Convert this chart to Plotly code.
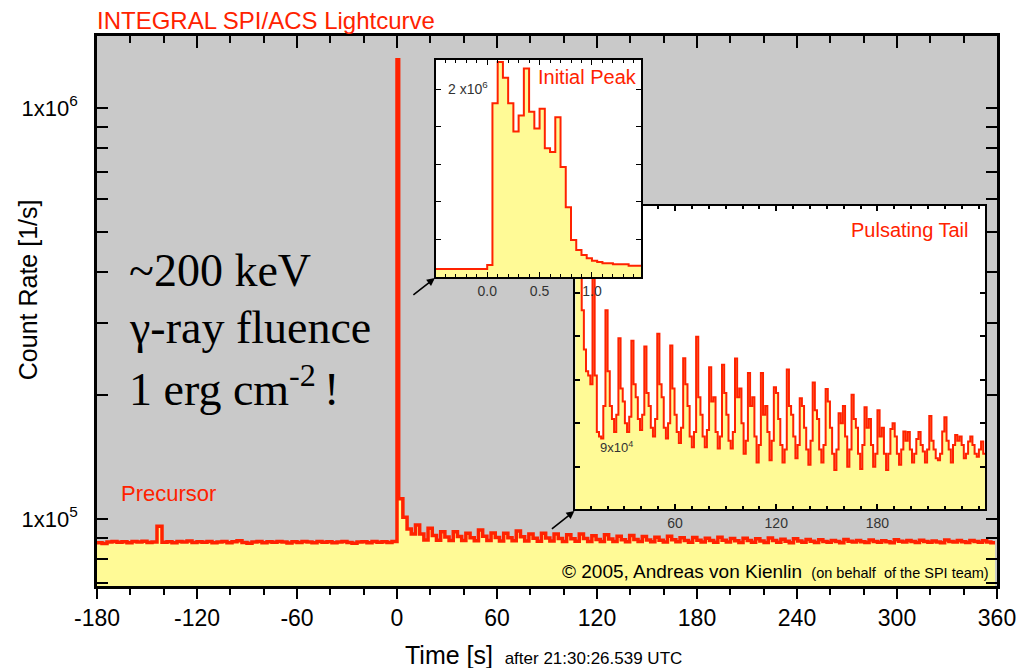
import plotly.graph_objects as go

# ---------------- data ----------------
# Main light curve (counts/s in units of 1e3)
pre_t0 = -180.0
pre_dt = 3.0
pre_rate = [87.6, 87.2, 87.9, 88.2, 87.8, 88.0, 87.5, 88.1, 87.9, 88.3, 87.7, 87.9,
            96.0, 87.8, 88.0, 87.6, 88.2, 87.9, 88.4, 87.7, 88.0, 87.8, 88.1, 87.5,
            87.9, 88.2, 87.6, 88.0, 88.5, 87.7, 87.3, 87.9, 88.1, 87.6, 88.0, 87.8,
            88.2, 87.9, 87.4, 88.0, 87.7, 88.1, 87.9, 87.6, 88.2, 87.8, 88.0, 87.5,
            87.9, 88.1, 87.7, 87.3, 87.9, 88.0, 87.6, 88.2, 87.8, 88.0, 87.7, 88.1]
spike_t = [0.0, 1.0]
spike_rate = [1310.0]
post_t0 = 1.0
post_dt = 2.52
post_start = [112.0, 101.0, 94.5, 92.0]
post_peak = [96.7, 95.0, 93.1, 93.1, 92.3, 94.0, 92.5, 92.3, 93.5, 92.0, 92.3, 92.0,
             91.5, 92.0, 91.0, 91.5, 90.8, 91.2, 90.6, 90.3, 90.8, 90.0, 90.2, 89.8,
             90.3, 89.6, 89.8, 89.5, 89.9, 89.3, 89.5, 89.2, 89.0, 88.7, 89.1, 88.6,
             88.9, 88.5, 89.0, 88.6, 88.8, 88.4, 88.9, 88.6, 88.7, 88.5]
post_mid = [92.0, 91.2, 90.4, 90.6, 90.0, 90.8, 90.1, 90.0, 90.5, 89.8, 89.9, 89.7,
            89.5, 89.6, 89.2, 89.4, 89.0, 89.2, 88.9, 88.8, 89.0, 88.7, 88.8, 88.6,
            88.8, 88.5, 88.6, 88.4, 88.6, 88.3, 88.4, 88.3, 88.2, 88.1, 88.3, 88.0,
            88.2, 88.0, 88.3, 88.1, 88.2, 87.9, 88.2, 88.0, 88.1, 87.9]
post_trough = [88.9, 88.8, 88.6, 88.7, 88.5, 88.6, 88.4, 88.5, 88.4, 88.3, 88.4, 88.2,
               88.3, 88.2, 88.1, 88.2, 88.0, 88.1, 88.0, 87.9, 88.0, 87.8, 87.9, 87.8,
               87.9, 87.7, 87.8, 87.7, 87.8, 87.6, 87.8, 87.7, 87.8, 87.6, 87.9, 87.7,
               87.8, 87.6, 87.9, 87.7, 87.8, 87.5, 87.9, 87.7, 87.8, 87.6]

# Initial peak inset (bin starts in s, rates in 1e6 counts/s)
peak_bin_start = [-0.5, 0.0, 0.05, 0.10, 0.15, 0.20, 0.25, 0.30, 0.35, 0.40, 0.45,
                  0.50, 0.55, 0.60, 0.65, 0.70, 0.75, 0.80, 0.85, 0.90, 0.95, 1.00,
                  1.05, 1.10, 1.20, 1.35]
peak_bin_end = 1.5
peak_rate = [0.085, 0.128, 1.85, 2.29, 2.12, 1.85, 1.55, 1.72, 2.22, 1.76, 1.58,
             1.79, 1.37, 1.33, 1.70, 1.17, 0.743, 0.395, 0.288, 0.235, 0.200, 0.174,
             0.160, 0.146, 0.135, 0.121]

# Pulsating tail inset (1e3 counts/s)
tail_t0 = 0.8
tail_dt = 1.28
tail_rate = [260, 175, 140, 121, 112, 107, 106, 104,
             135, 106, 93, 92, 91.5, 99,
             121, 107, 99, 96, 93, 97,
             114.6, 103, 100, 95, 93, 96.5,
             114, 104, 101, 96, 93.5, 97,
             112.7, 102, 99, 94, 92, 96,
             115.6, 104, 101, 94, 91.5, 95,
             112.9, 103, 97, 93, 90.5, 94,
             110, 104, 99, 92, 89.5, 93,
             114.9, 101, 97, 92, 89.5, 93.5,
             107.9, 100, 101, 93, 89.2, 92,
             108.5, 102, 97, 91, 89.2, 93,
             109.9, 101, 103, 95, 88, 91,
             106.6, 99, 101, 92, 86, 90,
             106.6, 97, 99, 93, 86.5, 91,
             103.3, 102, 96, 90, 86, 89,
             107.4, 99, 97, 92, 87, 90,
             100.8, 99, 94, 89, 85.5, 91,
             104.4, 98, 96, 89, 86, 90,
             102.9, 100, 94, 88, 84.3, 89,
             97.3, 95, 99, 92, 85, 89,
             101.6, 96, 94, 88, 84.5, 90,
             98.7, 94, 96, 90, 85, 88,
             98, 92, 94, 88, 84.3, 88,
             93.7, 95, 92, 88, 85.5, 89,
             93.1, 91, 93, 89, 86, 88,
             91.4, 93, 90, 88.5, 86, 89,
             96.7, 91, 89, 87, 86.5, 88,
             93.1, 96.4, 91, 89, 86, 90,
             92.3, 91, 92, 90, 87, 88,
             90.8, 92, 90, 88, 87.3, 89,
             90.8, 88]

main_xticks = [-180, -120, -60, 0, 60, 120, 180, 240, 300, 360]
main_xticktext = ["-180", "-120", "-60", "0", "60", "120", "180", "240", "300", "360"]
main_yticks = [1e5, 1e6]
main_yticktext = ["1x10<sup>5</sup>", "1x10<sup>6</sup>"]
main_yminor = [7e4, 8e4, 9e4, 2e5, 3e5, 4e5, 5e5, 6e5, 7e5, 8e5, 9e5]

# ---------------- build step series ----------------
main_x, main_y = [], []
for i, v in enumerate(pre_rate):
    main_x.append(pre_t0 + i * pre_dt); main_y.append(v * 1e3)
main_x.append(spike_t[0]); main_y.append(spike_rate[0] * 1e3)
post_vals = list(post_start)
for p, m, tr in zip(post_peak, post_mid, post_trough):
    post_vals += [p, m, tr]
for i, v in enumerate(post_vals):
    main_x.append(post_t0 + i * post_dt); main_y.append(v * 1e3)
main_x.append(post_t0 + len(post_vals) * post_dt); main_y.append(post_vals[-1] * 1e3)

pk_x = list(peak_bin_start) + [peak_bin_end]
pk_y = [v * 1e6 for v in peak_rate] + [peak_rate[-1] * 1e6]

tl_x = [tail_t0 + i * tail_dt for i in range(len(tail_rate) + 1)]
tl_y = [v * 1e3 for v in tail_rate] + [tail_rate[-1] * 1e3]

# ---------------- style ----------------
W, H = 1028, 668
L, R, T, B = 97, 28, 36, 82
PW, PH = W - L - R, H - T - B
def px(x): return (x - L) / PW
def py(y): return (H - B - y) / PH

RED = "#ff2200"
YEL = "#fffa96"
GREY = "#c9c9c9"
SANS = "Liberation Sans, Arial, sans-serif"
SERIF = "Liberation Serif, Times New Roman, serif"

fig = go.Figure()
fig.add_trace(go.Scatter(x=main_x, y=main_y, mode="lines", line=dict(color=RED, width=3.5, shape="hv"),
                         fill="tozeroy", fillcolor=YEL, xaxis="x", yaxis="y", hoverinfo="skip"))
fig.add_trace(go.Scatter(x=[], y=[], xaxis="x4", yaxis="y", showlegend=False))
fig.add_trace(go.Scatter(x=tl_x, y=tl_y, mode="lines", line=dict(color=RED, width=2, shape="hv"),
                         fill="tozeroy", fillcolor=YEL, xaxis="x2", yaxis="y2", hoverinfo="skip"))
fig.add_trace(go.Scatter(x=pk_x, y=pk_y, mode="lines", line=dict(color=RED, width=2, shape="hv"),
                         fill="tozeroy", fillcolor=YEL, xaxis="x3", yaxis="y3", hoverinfo="skip"))

common = dict(showgrid=False, zeroline=False, linecolor="black", tickcolor="black")

fig.update_layout(
    width=W, height=H, margin=dict(l=L, r=R, t=T, b=B),
    paper_bgcolor="white", plot_bgcolor="white", showlegend=False,
    font=dict(family=SANS, color="black"),
    xaxis=dict(domain=[0, 1], anchor="y", range=[-180, 360], tickmode="array", tickvals=main_xticks,
               ticktext=main_xticktext,
               ticks="outside", ticklen=10, tickwidth=2, showline=True, linewidth=2.5, mirror=True,
               tickfont=dict(size=23),
               minor=dict(tickmode="linear", tick0=-180, dtick=20, ticks="outside", ticklen=6,
                          tickwidth=2, tickcolor="black"), **common),
    xaxis4=dict(overlaying="x", side="top", anchor="y", range=[-180, 360], tickmode="array",
                tickvals=main_xticks, ticks="inside", ticklen=12, tickwidth=2, showticklabels=False,
                showline=False,
                minor=dict(tickmode="linear", tick0=-180, dtick=20, ticks="inside", ticklen=7,
                           tickwidth=2, tickcolor="black"), **common),
    yaxis=dict(domain=[0, 1], anchor="x", type="log", range=[4.837, 6.175], tickmode="array",
               tickvals=main_yticks, ticktext=main_yticktext, ticks="inside", ticklen=11, tickwidth=2,
               showline=True, linewidth=2.5, mirror="allticks", tickfont=dict(size=22),
               ticklabelstandoff=12,
               minor=dict(tickmode="array", tickvals=main_yminor, ticks="inside", ticklen=6,
                          tickwidth=2, tickcolor="black"), **common),
    xaxis2=dict(domain=[px(577), px(988)], anchor="y2", range=[0.9, 243.8], tickmode="array",
                tickvals=[60, 120, 180], ticks="inside", ticklen=5, tickwidth=1.5, showline=True,
                linewidth=2, mirror="allticks", tickfont=dict(size=14, color="#333"),
                minor=dict(tickmode="linear", tick0=0, dtick=10, ticks="inside", ticklen=3,
                           tickwidth=1.5, tickcolor="black"), **common),
    yaxis2=dict(domain=[py(509), py(206)], anchor="x2", range=[75300, 145000], tickmode="array",
                tickvals=[85000, 95000, 105000, 115000, 125000], ticks="inside", ticklen=5,
                tickwidth=1.5, showticklabels=False, showline=True, linewidth=2, mirror="allticks",
                **common),
    xaxis3=dict(domain=[px(437), px(643)], anchor="y3", range=[-0.49, 1.47], tickmode="array",
                tickvals=[0, 0.5, 1.0], ticktext=["0.0", "0.5", "1.0"], ticks="inside", ticklen=5,
                tickwidth=1.2, showline=True, linewidth=1.5, mirror="allticks",
                tickfont=dict(size=14, color="#333"),
                minor=dict(tickmode="linear", tick0=0, dtick=0.1, ticks="inside", ticklen=3,
                           tickwidth=1.2, tickcolor="black"), **common),
    yaxis3=dict(domain=[py(277), py(60)], anchor="x3", range=[0, 2.31e6], tickmode="linear",
                tick0=0, dtick=4e5, ticks="inside", ticklen=5, tickwidth=1.2, showticklabels=False,
                showline=True, linewidth=1.5, mirror="allticks", **common),
    shapes=[dict(type="rect", xref="paper", yref="paper", x0=0, x1=1, y0=0, y1=1,
                 fillcolor=GREY, line=dict(width=0), layer="below")],
)

ann = []
def text(x, y, s, size, color="black", xanchor="left", yanchor="middle", family=SANS, angle=0):
    ann.append(dict(x=px(x), y=py(y), xref="paper", yref="paper", text=s, showarrow=False,
                    xanchor=xanchor, yanchor=yanchor, textangle=angle,
                    font=dict(size=size, color=color, family=family)))

text(95, 21, "INTEGRAL SPI/ACS Lightcurve", 24, RED)
text(28, 290, "Count Rate [1/s]", 25, angle=-90, xanchor="center")
text(404, 655, 'Time [s] <span style="font-size:17px"> after 21:30:26.539 UTC</span>', 25)
text(127, 270, "~200 keV", 46, family=SERIF)
text(127, 327, "γ-ray fluence", 46, family=SERIF)
text(127, 386, "1 erg cm<sup>-2 </sup>!", 46, family=SERIF)
text(119, 493, "Precursor", 22, RED)
text(641, 77, "Initial Peak", 20, RED, xanchor="right")
text(973, 230, "Pulsating Tail", 20, RED, xanchor="right")
text(447, 88, "2 x10<sup>6</sup>", 14, "#333")
text(600, 447, "9x10<sup>4</sup>", 13, "#333")
text(994, 571, '© 2005, Andreas von Kienlin <span style="font-size:14.5px"> (on behalf  of the SPI team)</span>', 19,
     xanchor="right")

for hx, hy, tx, ty in [(436, 278, 413, 296), (576, 511, 552, 530)]:
    ann.append(dict(x=px(hx), y=py(hy), xref="paper", yref="paper", text="", showarrow=True,
                    ax=tx - hx, ay=ty - hy, arrowhead=2, arrowsize=1, arrowwidth=1.6, arrowcolor="black"))

fig.update_layout(annotations=ann)
fig.write_html("out.html")
